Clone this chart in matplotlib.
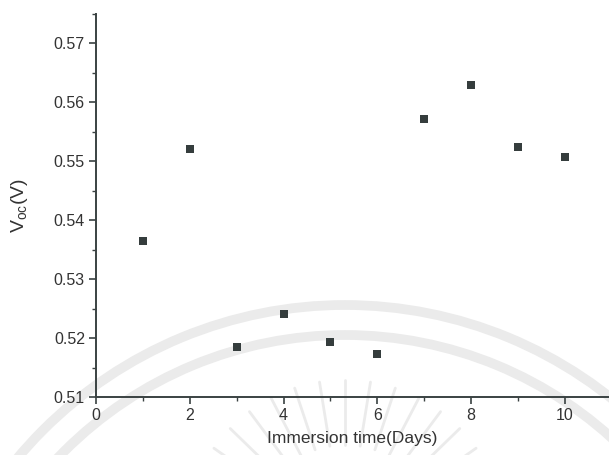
import numpy as np
import matplotlib
matplotlib.use("Agg")
import matplotlib.pyplot as plt
from matplotlib.patches import Arc
from matplotlib.ticker import MultipleLocator

# Open-circuit voltage vs. immersion time
days = [1, 2, 3, 4, 5, 6, 7, 8, 9, 10]
voc = [0.5365, 0.5520, 0.5184, 0.5240, 0.5194, 0.5173, 0.5571, 0.5629, 0.5524, 0.5506]

x_ticks = [0, 2, 4, 6, 8, 10]
y_ticks = [0.51, 0.52, 0.53, 0.54, 0.55, 0.56, 0.57]

plt.rcParams["font.family"] = ["Liberation Sans", "DejaVu Sans"]
plt.rcParams["mathtext.default"] = "regular"

W, H, DPI = 609, 455, 100
fig = plt.figure(figsize=(W / DPI, H / DPI), dpi=DPI, facecolor="white")

# faint emblem in the background
bg = fig.add_axes([0, 0, 1, 1], zorder=0)
bg.set_xlim(0, W)
bg.set_ylim(H, 0)
bg.axis("off")
emblem = "#ebebeb"
cx, cy = 345, 732
for r in (427, 397):
    bg.add_patch(Arc((cx, cy), 2 * r, 2 * r, theta1=0, theta2=360,
                     color=emblem, lw=7))
sx, sy = 345, 540
for ang in np.linspace(35, 145, 13):
    a = np.deg2rad(ang)
    bg.plot([sx + 95 * np.cos(a), sx + 160 * np.cos(a)],
            [sy - 95 * np.sin(a), sy - 160 * np.sin(a)],
            color=emblem, lw=2, solid_capstyle="round")

ink = "#3a4242"
text_c = "#333333"

ax = fig.add_axes([96 / W, 58 / H, (W - 96) / W, (455 - 58 - 13.5) / H], zorder=1)
ax.set_facecolor("none")
ax.scatter(days, voc, marker="s", s=38, color="#353d3d", zorder=3, linewidths=0)

ax.set_xlim(0, 10.94)
ax.set_ylim(0.51, 0.575)
ax.set_xticks(x_ticks)
ax.set_yticks(y_ticks)
ax.set_yticklabels([f"{v:.2f}" for v in y_ticks])
ax.xaxis.set_minor_locator(MultipleLocator(1))
ax.yaxis.set_minor_locator(MultipleLocator(0.005))

for side in ("top", "right"):
    ax.spines[side].set_visible(False)
for side in ("left", "bottom"):
    ax.spines[side].set_color(ink)
    ax.spines[side].set_linewidth(1.4)

ax.tick_params(which="major", direction="out", length=5, width=1.2, color=ink,
               labelsize=11.5, labelcolor=text_c, pad=3)
ax.tick_params(which="minor", direction="out", length=3, width=1.0, color=ink)

ax.set_xlabel("Immersion time(Days)", fontsize=12.5, color=text_c, labelpad=6)
ax.set_ylabel("V$_{oc}$(V)", fontsize=14, color=text_c, labelpad=17)

fig.savefig("out.png", dpi=DPI, facecolor="white")
